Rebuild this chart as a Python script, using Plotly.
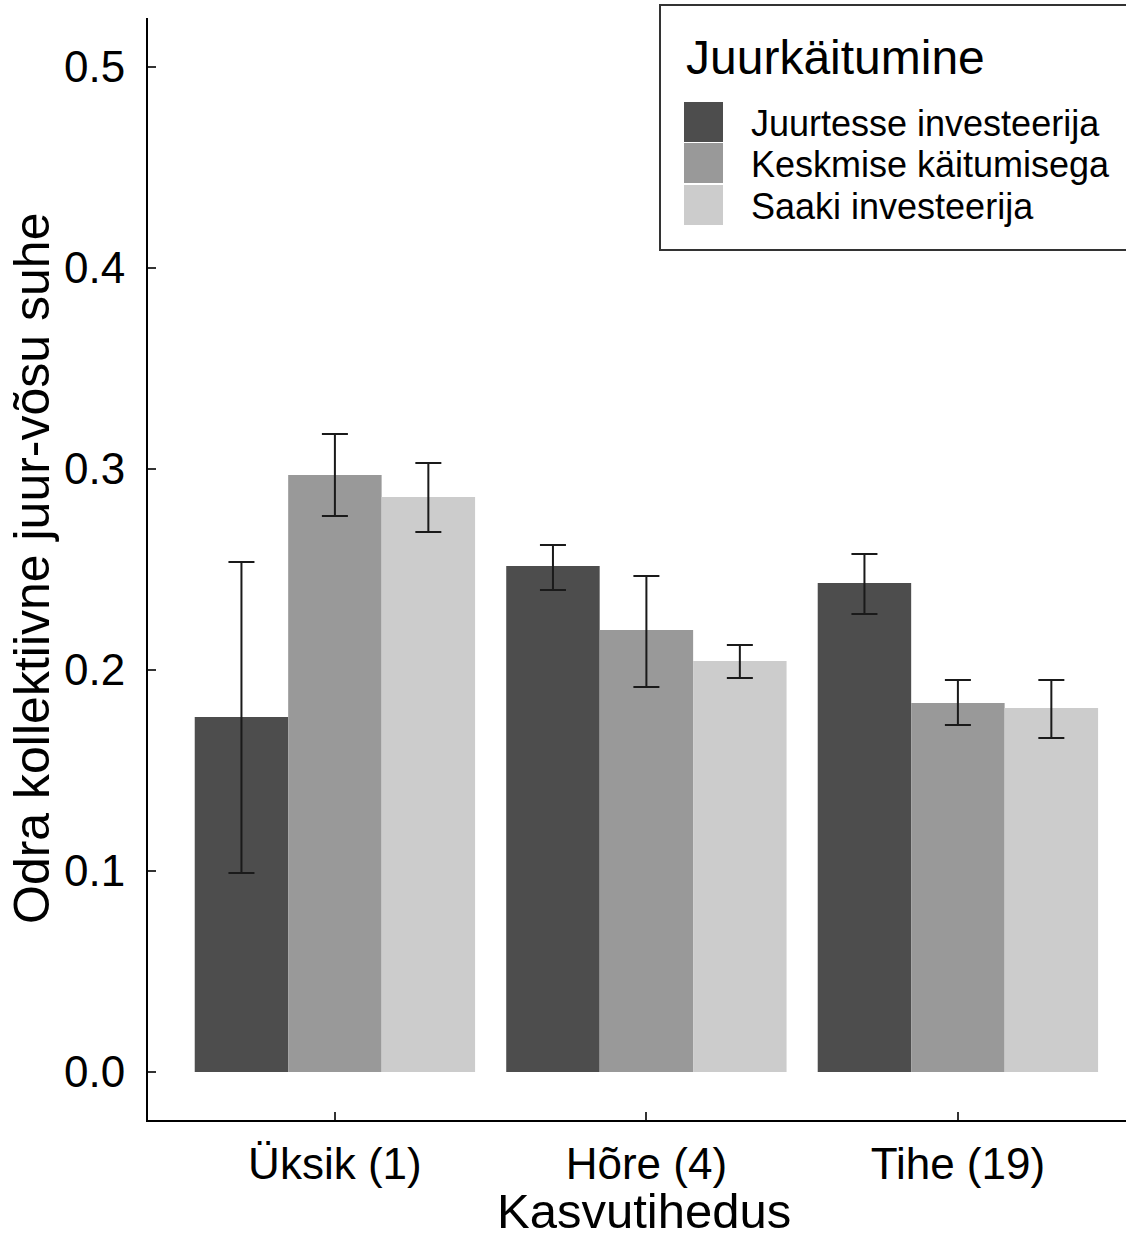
import plotly.graph_objects as go

categories = ["Üksik (1)", "Hõre (4)", "Tihe (19)"]
groups = ["Juurtesse investeerija", "Keskmise käitumisega", "Saaki investeerija"]
colors = ["#4d4d4d", "#999999", "#cccccc"]

means = {
    "Juurtesse investeerija": [0.1766, 0.2517, 0.2433],
    "Keskmise käitumisega": [0.2970, 0.2199, 0.1836],
    "Saaki investeerija": [0.2861, 0.2045, 0.1811],
}
upper = {
    "Juurtesse investeerija": [0.2537, 0.2622, 0.2577],
    "Keskmise käitumisega": [0.3174, 0.2468, 0.1950],
    "Saaki investeerija": [0.3030, 0.2124, 0.1950],
}
lower = {
    "Juurtesse investeerija": [0.0990, 0.2398, 0.2279],
    "Keskmise käitumisega": [0.2766, 0.1915, 0.1726],
    "Saaki investeerija": [0.2687, 0.1960, 0.1662],
}
yticks = [0.0, 0.1, 0.2, 0.3, 0.4, 0.5]

W, H = 1126, 1240
L, R, T, B = 148, 0, 18, 120
PW, PH = W - L - R, H - T - B
FONT = "Liberation Sans, Arial, sans-serif"

def px(x):
    return (x - L) / PW

def py(y):
    return (H - B - y) / PH

fig = go.Figure()
xpos = [1, 2, 3]
for g, c in zip(groups, colors):
    m = means[g]
    fig.add_trace(go.Bar(
        x=xpos, y=m, name=g, marker=dict(color=c, line=dict(width=0)),
        showlegend=False,
        error_y=dict(type="data", symmetric=False,
                     array=[u - v for u, v in zip(upper[g], m)],
                     arrayminus=[v - l for v, l in zip(m, lower[g])],
                     color="#1a1a1a", thickness=2, width=13),
    ))

fig.update_layout(
    width=W, height=H,
    margin=dict(l=L, r=R, t=T, b=B, pad=0),
    paper_bgcolor="white", plot_bgcolor="white",
    barmode="group", bargap=0.1, bargroupgap=0,
    font=dict(family=FONT, color="black"),
    showlegend=False,
)
fig.update_xaxes(
    range=[0.4, 0.4 + PW / 311.5], tickvals=xpos, ticktext=categories,
    showline=True, linecolor="black", linewidth=2, showgrid=False, zeroline=False,
    ticks="inside", ticklen=8, tickwidth=2, tickcolor="#333333",
    tickfont=dict(size=44, family=FONT, color="black"), ticklabelstandoff=4,
)
fig.update_yaxes(
    range=[-0.02388, 0.52438], tickvals=yticks, ticktext=[f"{v:.1f}" for v in yticks],
    showline=True, linecolor="black", linewidth=2, showgrid=False, zeroline=False,
    ticks="inside", ticklen=8, tickwidth=2, tickcolor="#333333",
    tickfont=dict(size=44, family=FONT, color="black"), ticklabelstandoff=12,
)

ann = []
ann.append(dict(text="Kasvutihedus", x=px(644), xref="paper", y=py(1240), yref="paper",
                showarrow=False, font=dict(size=49, family=FONT, color="black"),
                xanchor="center", yanchor="bottom"))
ann.append(dict(text="Odra kollektiivne juur-võsu suhe", x=px(32), xref="paper",
                y=py(569), yref="paper", textangle=-90, showarrow=False,
                font=dict(size=50, family=FONT, color="black"),
                xanchor="center", yanchor="middle"))

shapes = []
# legend box
shapes.append(dict(type="rect", xref="paper", yref="paper",
                   x0=px(660), x1=px(1140), y0=py(250), y1=py(5),
                   line=dict(color="#333333", width=2), fillcolor="white", layer="above"))
ann.append(dict(text="Juurkäitumine", x=px(684), xref="paper", y=py(57), yref="paper",
                showarrow=False, xanchor="left", yanchor="middle",
                font=dict(size=48, family=FONT, color="black")))
key_tops = [102, 143, 185]
for g, c, kt in zip(groups, colors, key_tops):
    shapes.append(dict(type="rect", xref="paper", yref="paper",
                       x0=px(684), x1=px(723), y0=py(kt + 40), y1=py(kt),
                       line=dict(width=0), fillcolor=c, layer="above"))
    ann.append(dict(text=g, x=px(749), xref="paper", y=py(kt + 22), yref="paper",
                    showarrow=False, xanchor="left", yanchor="middle",
                    font=dict(size=36, family=FONT, color="black")))

fig.update_layout(annotations=ann, shapes=shapes)
fig.write_html("out.html")
